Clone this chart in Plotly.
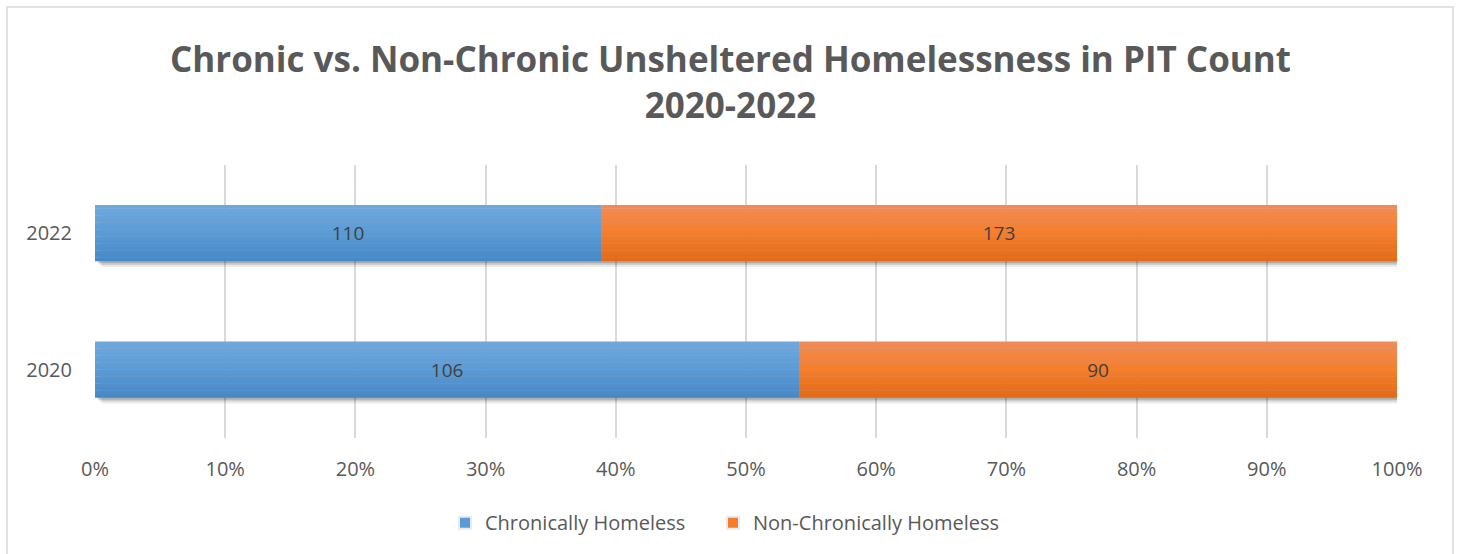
import plotly.graph_objects as go

# Point-in-time counts of unsheltered people, by year
years = ["2020", "2022"]
chronic = [106, 110]
non_chronic = [90, 173]
series_names = ["Chronically Homeless", "Non-Chronically Homeless"]
x_ticks = [0, 10, 20, 30, 40, 50, 60, 70, 80, 90, 100]
x_tick_labels = [f"{t}%" for t in x_ticks]

FONT = "Open Sans"
TEXT = "#595959"

# Shares of each year's total (100% stacked)
totals = [a + b for a, b in zip(chronic, non_chronic)]
chronic_pct = [a / t * 100 for a, t in zip(chronic, totals)]
non_chronic_pct = [b / t * 100 for b, t in zip(non_chronic, totals)]
segments = [
    (series_names[0], chronic, chronic_pct, [0, 0],
     [(112, 168, 221), (91, 155, 213), (70, 135, 199)], "legend"),
    (series_names[1], non_chronic, non_chronic_pct, chronic_pct,
     [(240, 140, 88), (244, 126, 44), (226, 106, 24)], "legend2"),
]

BAR_W = 0.41
N_SLICES = 16


def blend(stops, t):
    # t = 0 at the bottom edge of a bar, 1 at its top edge
    lo, mid, hi = stops[2], stops[1], stops[0]
    if t < 0.5:
        a, b, u = lo, mid, t / 0.5
    else:
        a, b, u = mid, hi, (t - 0.5) / 0.5
    c = [round(a[i] + (b[i] - a[i]) * u) for i in range(3)]
    return f"rgb({c[0]},{c[1]},{c[2]})"


fig = go.Figure()

# soft drop shadow under each full bar
full = [100 for _ in years]
for k, (dx, op) in enumerate([(0.5, 0.08), (0.35, 0.12), (0.2, 0.16)]):
    fig.add_trace(go.Bar(
        y=years, x=full, base=[dx for _ in years], orientation="h",
        width=BAR_W, offset=-BAR_W / 2 - 0.014 * (3 - k),
        marker=dict(color=f"rgba(0,0,0,{op})", line=dict(width=0)),
        showlegend=False, hoverinfo="skip",
    ))

# each segment is drawn as thin horizontal slices to give a vertical gradient
for name, counts, pct, base, stops, leg in segments:
    for s in range(N_SLICES):
        t = (s + 0.5) / N_SLICES
        fig.add_trace(go.Bar(
            y=years, x=pct, base=base, orientation="h",
            width=BAR_W / N_SLICES + 0.002,
            offset=-BAR_W / 2 + s * BAR_W / N_SLICES,
            marker=dict(color=blend(stops, t), line=dict(width=0)),
            name=name, legendgroup=name,
            showlegend=False, hoverinfo="skip",
        ))
    # value labels
    fig.add_trace(go.Bar(
        y=years, x=pct, base=base, orientation="h",
        width=BAR_W, offset=-BAR_W / 2,
        marker=dict(color="rgba(0,0,0,0)", line=dict(width=0)),
        text=[str(v) for v in counts], textposition="inside",
        insidetextanchor="middle", constraintext="none",
        textfont=dict(family=FONT, size=19, color="#404040"),
        name=name, legendgroup=name, showlegend=False,
        hovertemplate="%{y}: %{text}<extra>" + name + "</extra>",
    ))
    # legend swatch
    fig.add_trace(go.Bar(
        y=[None], x=[None], orientation="h", name=name,
        marker=dict(color=blend(stops, 0.5)), legendgroup=name,
        showlegend=True, legend=leg,
    ))

legend_style = dict(
    orientation="h", xanchor="left", y=-0.31, yanchor="middle",
    font=dict(family=FONT, size=20, color=TEXT),
    itemsizing="constant", itemwidth=30, bgcolor="rgba(0,0,0,0)",
)

fig.update_layout(
    width=1461, height=554,
    margin=dict(l=95, r=64, t=165, b=116),
    paper_bgcolor="white", plot_bgcolor="white",
    barmode="overlay",
    title=dict(
        text="Chronic vs. Non-Chronic Unsheltered Homelessness in PIT Count<br>2020-2022",
        x=0.5, xanchor="center", y=0.87, yanchor="middle",
        font=dict(family=FONT, size=35, color=TEXT, weight="bold"),
    ),
    legend=dict(x=(445 - 95) / 1302, **legend_style),
    legend2=dict(x=(713 - 95) / 1302, **legend_style),
    xaxis=dict(
        range=[0, 100], tickvals=x_ticks, ticktext=x_tick_labels,
        showgrid=True, gridcolor="#d9d9d9", gridwidth=1.5,
        zeroline=False, showline=False, ticks="",
        ticklabelstandoff=17,
        tickfont=dict(family=FONT, size=20, color=TEXT),
        fixedrange=True,
    ),
    yaxis=dict(
        type="category", categoryorder="array", categoryarray=years,
        range=[-0.5, 1.5], showgrid=False, zeroline=False, showline=False,
        ticks="", ticklabelstandoff=22,
        tickfont=dict(family=FONT, size=20, color=TEXT),
        fixedrange=True,
    ),
    shapes=[dict(
        type="rect", xref="paper", yref="paper",
        x0=(7 - 95) / 1302, x1=(1453 - 95) / 1302,
        y0=(438 - 560) / 273, y1=(438 - 7) / 273,
        line=dict(color="#d9d9d9", width=1.5), fillcolor="rgba(0,0,0,0)",
        layer="below",
    )],
)

fig.write_html("out.html")
